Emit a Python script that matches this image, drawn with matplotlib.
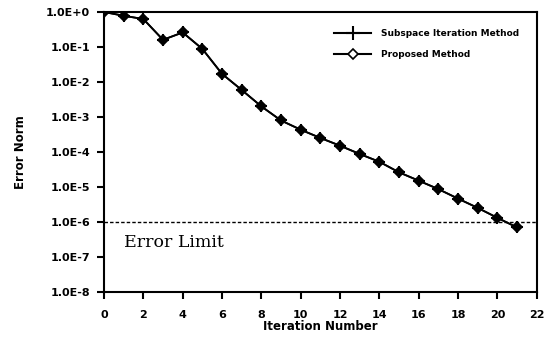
import numpy as np
import matplotlib
matplotlib.use("Agg")
import matplotlib.pyplot as plt
from matplotlib.ticker import FixedLocator, FixedFormatter

# iteration numbers and error norms
iters = list(range(22))
err_subspace = [1.0, 0.78, 0.63, 0.16, 0.26, 0.088, 0.017, 0.0059, 0.0020, 7.9e-4,
                4.3e-4, 2.5e-4, 1.5e-4, 8.7e-5, 5.2e-5, 2.6e-5, 1.5e-5, 8.6e-6,
                4.6e-6, 2.5e-6, 1.3e-6, 6.9e-7]
err_proposed = [1.0, 0.78, 0.63, 0.16, 0.26, 0.088, 0.017, 0.0059, 0.0020, 7.9e-4,
                4.3e-4, 2.5e-4, 1.5e-4, 8.7e-5, 5.2e-5, 2.6e-5, 1.5e-5, 8.6e-6,
                4.6e-6, 2.5e-6, 1.3e-6, 6.9e-7]
err_limit = 1e-6
y_ticks = [1e0, 1e-1, 1e-2, 1e-3, 1e-4, 1e-5, 1e-6, 1e-7, 1e-8]
y_labels = ["1.0E+0", "1.0E-1", "1.0E-2", "1.0E-3", "1.0E-4",
            "1.0E-5", "1.0E-6", "1.0E-7", "1.0E-8"]
x_ticks = list(range(0, 23, 2))

plt.rcParams['font.family'] = ['DejaVu Sans']

fig = plt.figure(figsize=(5.55, 3.37), dpi=100)
ax = fig.add_axes([0.1874, 0.1344, 0.7796, 0.8300])

ax.axhline(err_limit, color="k", ls=(0, (2.5, 1.5)), lw=1.0)

ax.plot(iters, err_proposed, color="k", lw=1.3, marker="D", ms=5.5,
        mfc="k", mec="k", mew=1.2, label="Proposed Method")
ax.plot(iters, err_subspace, color="k", lw=1.3, marker="+", ms=8,
        mew=1.5, label="Subspace Iteration Method")

ax.set_yscale("log")
ax.set_ylim(1e-8, 1e0)
ax.set_xlim(0, 22)
ax.yaxis.set_major_locator(FixedLocator(y_ticks))
ax.yaxis.set_major_formatter(FixedFormatter(y_labels))
ax.yaxis.set_minor_locator(FixedLocator([]))
ax.set_xticks(x_ticks)
ax.tick_params(axis="both", direction="out", length=5, width=1.5,
               labelsize=8)
ax.tick_params(axis="y", pad=5)
ax.tick_params(axis="x", pad=8)
for lab in ax.get_xticklabels() + ax.get_yticklabels():
    lab.set_fontweight("bold")
for sp in ax.spines.values():
    sp.set_linewidth(1.5)

ax.set_xlabel("Iteration Number", fontsize=8.5, fontweight="bold", labelpad=0)
ax.set_ylabel("Error Norm", fontsize=8.5, fontweight="bold", labelpad=14)

ax.text(1.0, 2.6e-7, "Error Limit", family=["DejaVu Serif"],
        fontsize=12.5, va="center", ha="left")

# legend with custom handles: plus for subspace, open diamond for proposed
h_sub = plt.Line2D([], [], color="k", lw=1.5, marker="+", ms=10, mew=1.5)
h_pro = plt.Line2D([], [], color="k", lw=1.5, marker="D", ms=5,
                   mfc="white", mec="k", mew=1.2)
leg = ax.legend([h_sub, h_pro], ["Subspace Iteration Method", "Proposed Method"],
                loc="upper right", frameon=False, prop={"size": 6.5, "weight": "bold"},
                handlelength=4.0, handletextpad=1.2, borderaxespad=1.5,
                labelspacing=1.3)

fig.savefig("out.png", dpi=100)
